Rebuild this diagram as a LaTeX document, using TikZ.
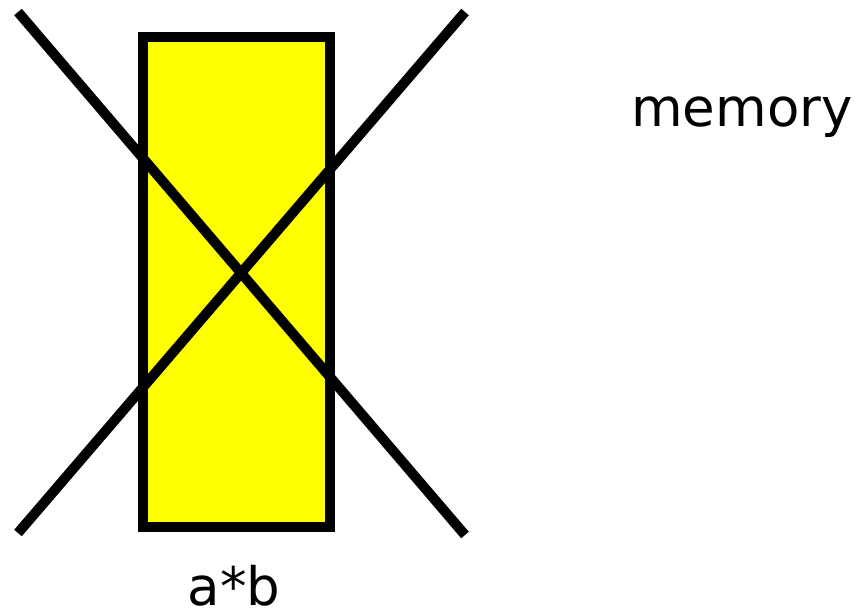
\documentclass[tikz,border=0pt]{standalone}
\usepackage{fontspec}
\setmainfont{DejaVu Sans}
\definecolor{pureyellow}{RGB}{255,255,0}
\begin{document}
\begin{tikzpicture}[x=1pt,y=-1pt,
  thick line/.style={line width=10pt},
  lbl/.style={font=\fontsize{53}{62}\selectfont, inner sep=0pt, anchor=base}]
\useasboundingbox (0,0) rectangle (862,615);
\draw[thick line, fill=pureyellow] (143,37) rectangle (330,527);
\coordinate (a1) at (18,12);
\coordinate (a2) at (465,535);
\coordinate (b1) at (18,533);
\coordinate (b2) at (465,12);
\draw[thick line] (a1) -- (a2);
\draw[thick line] (b1) -- (b2);
\node[lbl] (mem) at (742,127) {memory};
\node[lbl, text depth=0pt] (ab) at (234,605) {a*b};
\end{tikzpicture}
\end{document}
